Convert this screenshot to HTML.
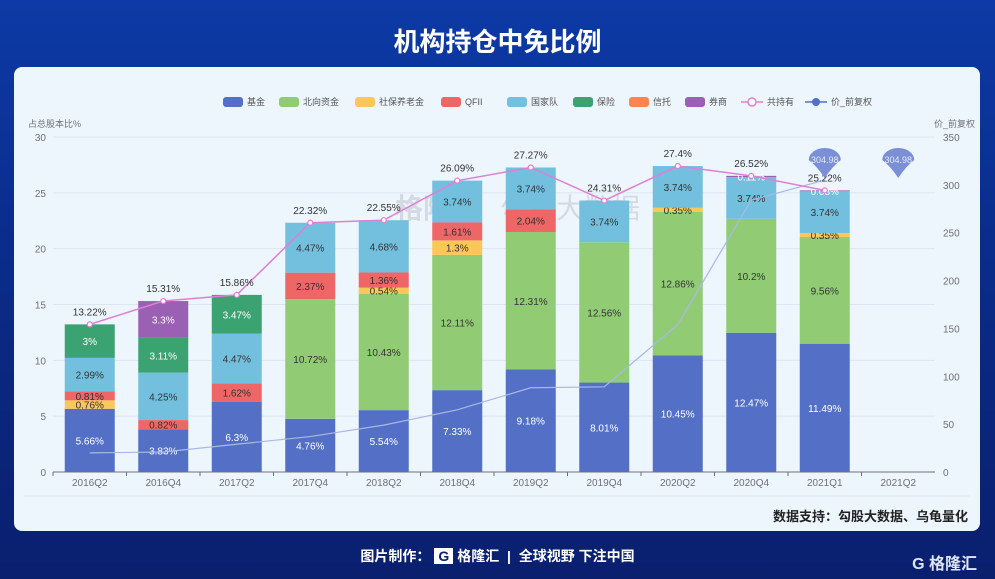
<!DOCTYPE html>
<html><head><meta charset="utf-8">
<style>
body{margin:0;width:995px;height:579px;overflow:hidden;background:linear-gradient(180deg,#0d3aa6 0%,#0a2d8c 40%,#0a1f6e 100%);font-family:"Liberation Sans","Noto Sans CJK SC",sans-serif;position:relative}
.title{position:absolute;top:22px;left:0;width:995px;text-align:center;color:#fff;font-size:26px;font-weight:bold}
.card{position:absolute;left:14px;top:67px;width:966px;height:464px;background:#edf5fd;border-radius:8px}
.foot{position:absolute;top:546px;left:0;width:995px;text-align:center;color:#fff;font-size:14px;font-weight:bold}
</style></head><body>
<div class="title">机构持仓中免比例</div>
<div class="card"></div>
<svg id="c" width="995" height="579" style="position:absolute;left:0;top:0"></svg>
<div class="foot">图片制作：<span style="display:inline-block;background:#fff;color:#0a1f6e;padding:0 4px;margin:0 4px">G</span>格隆汇 &nbsp;|&nbsp; 全球视野 下注中国</div>
<div style="position:absolute;right:18px;top:550px;color:#dfe6f5;font-size:16px;font-weight:bold">G 格隆汇</div>
<script>
const categories=["2016Q2","2016Q4","2017Q2","2017Q4","2018Q2","2018Q4","2019Q2","2019Q4","2020Q2","2020Q4","2021Q1","2021Q2"];
const seriesNames=["基金","北向资金","社保养老金","QFII","国家队","保险","信托","券商"];
const fund=[5.66,3.83,6.3,4.76,5.54,7.33,9.18,8.01,10.45,12.47,11.49,0];
const north=[0,0,0,10.72,10.43,12.11,12.31,12.56,12.86,10.2,9.56,0];
const social=[0.76,0,0,0,0.54,1.3,0,0,0.35,0,0.35,0];
const qfii=[0.81,0.82,1.62,2.37,1.36,1.61,2.04,0,0,0,0,0];
const national=[2.99,4.25,4.47,4.47,4.68,3.74,3.74,3.74,3.74,3.74,3.74,0];
const insurance=[3,3.11,3.47,0,0,0,0,0,0,0,0,0];
const trust=[0,0,0,0,0,0,0,0,0,0,0,0];
const broker=[0,3.3,0,0,0,0,0,0,0,0.11,0.08,0];
const totals=[13.22,15.31,15.86,22.32,22.55,26.09,27.27,24.31,27.4,26.52,25.22,null];
const price=[20,20.87,29,37,49,65,88,89,154,284,304.98,null];
const leftTicks=[0,5,10,15,20,25,30];
const rightTicks=[0,50,100,150,200,250,300,350];
const colors=["#5470c6","#91cc75","#fac858","#ee6666","#73c0de","#3ba272","#fc8452","#9a60b4"];
const svg=document.getElementById('c');const NS="http://www.w3.org/2000/svg";
function el(t,a,txt){const e=document.createElementNS(NS,t);for(const k in a)e.setAttribute(k,a[k]);if(txt!=null)e.textContent=txt;svg.appendChild(e);return e;}
const x0=53,step=73.5,y0=472,yTop=137;
const xc=i=>x0+step*(i+0.5);
const yL=v=>y0-(v/30)*(y0-yTop);
const yR=v=>y0-(v/350)*(y0-yTop);
let w=el('text',{x:395,y:218,'font-size':28,fill:'#d4dae3','font-weight':'bold'},'格隆汇');
w=el('text',{x:500,y:218,'font-size':28,fill:'#d4dae3'},'勾股大数据');
leftTicks.forEach(v=>{let l=el('line',{x1:x0,x2:x0+12*step,y1:yL(v),y2:yL(v),stroke:v?'#dde6f0':'#6e7079','stroke-width':1});
let t=el('text',{x:46,y:yL(v)+4,'font-size':10,fill:'#6e7079','text-anchor':'end'},v);});
rightTicks.forEach(v=>{let t=el('text',{x:943,y:yR(v)+4,'font-size':10,fill:'#6e7079'},v);});
let t=el('text',{x:28,y:127,'font-size':9,fill:'#6e7079'},'占总股本比%');
t=el('text',{x:975,y:127,'font-size':9,fill:'#6e7079','text-anchor':'end'},'价_前复权');
categories.forEach((c,i)=>{let l=el('line',{x1:x0+step*i,x2:x0+step*i,y1:y0,y2:y0+4,stroke:'#6e7079'});
let tx=el('text',{x:xc(i),y:486,'font-size':10,fill:'#6e7079','text-anchor':'middle'},c);});
const stacks=[fund,north,social,qfii,national,insurance,trust,broker];
const bw=50;
categories.forEach((c,i)=>{let acc=0;stacks.forEach((s,k)=>{const v=s[i];if(!v)return;const ya=yL(acc+v),yb=yL(acc);
let r=el('rect',{x:xc(i)-bw/2,y:ya,width:bw,height:yb-ya,fill:colors[k]});
const light=(k===0||k===5||k===7);
let tl=el('text',{x:xc(i),y:(ya+yb)/2+4,'font-size':10,fill:light?'#fff':'#333','text-anchor':'middle'},v+'%');
acc+=v;});});
let pts=price.map((v,i)=>v==null?null:[xc(i),yR(v)]).filter(p=>p);
let pl=el('polyline',{points:pts.map(p=>p.join(',')).join(' '),fill:'none',stroke:'#a9b8e8','stroke-width':1.2});
let tp=totals.map((v,i)=>v==null?null:[xc(i),yL(v)]).filter(p=>p);
let tline=el('polyline',{points:tp.map(p=>p.join(',')).join(' '),fill:'none',stroke:'#e07fd6','stroke-width':1.5});
totals.forEach((v,i)=>{if(v==null)return;let cc=el('circle',{cx:xc(i),cy:yL(v),r:2.5,fill:'#fff',stroke:'#e07fd6','stroke-width':1.2});
let tl=el('text',{x:xc(i),y:yL(v)-9,'font-size':10,fill:'#333','text-anchor':'middle'},v+'%');});
[10,11].forEach(i=>{const cx=xc(i),cy=160;let p=el('path',{d:`M${cx-16},${cy} a16,12 0 1,1 32,0 q-8,6 -16,18 q-8,-12 -16,-18z`,fill:'#7b8fd6'});
let tl=el('text',{x:cx,y:cy+3,'font-size':9,fill:'#e6ebf8','text-anchor':'middle'},'304.98');});
let lx=223;const ly=102;
seriesNames.forEach((n,k)=>{let r=el('rect',{x:lx,y:ly-5,width:20,height:10,rx:3,fill:colors[k]});
let tl=el('text',{x:lx+24,y:ly+3,'font-size':9,fill:'#555'},n);lx+=28+n.length*10+8;if(n==='QFII')lx-=10;});
let ll=el('line',{x1:lx,x2:lx+22,y1:ly,y2:ly,stroke:'#e07fd6','stroke-width':1.5});
let lc=el('circle',{cx:lx+11,cy:ly,r:4,fill:'#fff',stroke:'#e07fd6','stroke-width':1.5});
t=el('text',{x:lx+26,y:ly+3,'font-size':9,fill:'#555'},'共持有');lx+=64;
ll=el('line',{x1:lx,x2:lx+22,y1:ly,y2:ly,stroke:'#5470c6','stroke-width':1.5});
lc=el('circle',{cx:lx+11,cy:ly,r:4,fill:'#5470c6'});
t=el('text',{x:lx+26,y:ly+3,'font-size':9,fill:'#555'},'价_前复权');
let sep=el('line',{x1:24,x2:970,y1:496,y2:496,stroke:'#dfe6ee'});
t=el('text',{x:968,y:521,'font-size':13,'font-weight':'bold',fill:'#222','text-anchor':'end'},'数据支持：勾股大数据、乌龟量化');
</script>
</body></html>
